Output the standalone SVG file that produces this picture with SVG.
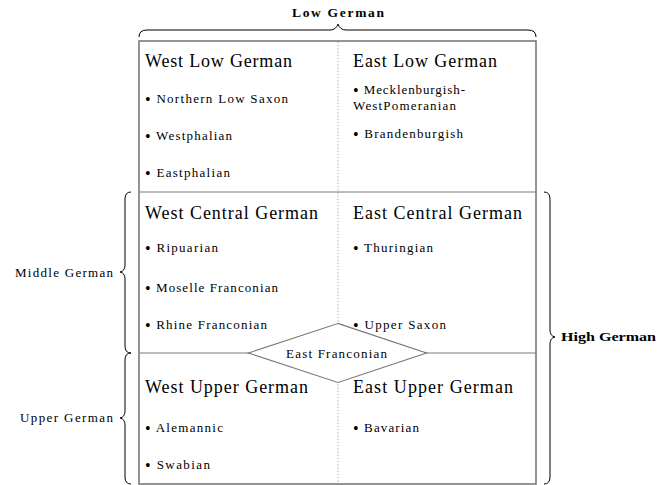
<svg xmlns="http://www.w3.org/2000/svg" width="658" height="485" viewBox="0 0 658 485">
<style>
text{font-family:"Liberation Serif","DejaVu Serif",serif;fill:#000}
.h{font-size:18px}
.i{font-size:13px}
.i tspan.bu{font-size:16px}
.l{font-size:13px}
.b{font-size:13.5px;font-weight:bold}
.brace{fill:none;stroke:#000;stroke-width:1}
.frame{fill:none;stroke:#7a7a7a;stroke-width:1.6}
.sep{stroke:#7a7a7a;stroke-width:1.2}
.dot{stroke:#888;stroke-width:0.8;stroke-dasharray:1.2,2}
</style>
<rect width="658" height="485" fill="#fff"/>
<g id="connectors">
<line class="dot" x1="338" y1="42" x2="338" y2="483"/>
<line class="sep" x1="139" y1="192" x2="536" y2="192"/>
<line class="sep" x1="139" y1="353" x2="536" y2="353"/>
<rect class="frame" x="139" y="41" width="397" height="443"/>
</g>
<g id="low-german">
<path class="brace" d="M139,37 Q139,30 147,30 L330,30 Q336,30 338,24 Q340,30 346,30 L528,30 Q536,30 536,37"/>
<text class="b" x="292" y="17" textLength="92" lengthAdjust="spacing">Low German</text>
</g>
<g id="middle-german">
<path class="brace" d="M131,192 Q125,192 125,199 L125,265 Q125,271 120,272 Q125,273 125,279 L125,346 Q125,353 131,353"/>
<text class="l" x="15" y="277" textLength="98" lengthAdjust="spacing">Middle German</text>
</g>
<g id="upper-german">
<path class="brace" d="M131,353 Q125,353 125,360 L125,411 Q125,417 120,418 Q125,419 125,425 L125,477 Q125,484 131,484"/>
<text class="l" x="20" y="422" textLength="93" lengthAdjust="spacing">Upper German</text>
</g>
<g id="high-german">
<path class="brace" d="M544,192 Q550,192 550,199 L550,330 Q550,336 555,337 Q550,338 550,344 L550,477 Q550,484 544,484"/>
<text class="b" x="561" y="341" textLength="95" lengthAdjust="spacingAndGlyphs">High German</text>
</g>
<g id="west-low-german">
<text class="h" x="145" y="67" textLength="147" lengthAdjust="spacing">West Low German</text>
<text class="i" x="145" y="103" textLength="143" lengthAdjust="spacing"><tspan class="bu" dy="2">•</tspan><tspan dy="-2"> Northern Low Saxon</tspan></text>
<text class="i" x="145" y="140" textLength="87" lengthAdjust="spacing"><tspan class="bu" dy="2">•</tspan><tspan dy="-2"> Westphalian</tspan></text>
<text class="i" x="145" y="177" textLength="85" lengthAdjust="spacing"><tspan class="bu" dy="2">•</tspan><tspan dy="-2"> Eastphalian</tspan></text>
</g>
<g id="east-low-german">
<text class="h" x="353" y="67" textLength="144" lengthAdjust="spacing">East Low German</text>
<text class="i" x="353" y="94" textLength="112" lengthAdjust="spacing"><tspan class="bu" dy="2">•</tspan><tspan dy="-2"> Mecklenburgish-</tspan></text>
<text class="i" x="353" y="110" textLength="103" lengthAdjust="spacing">WestPomeranian</text>
<text class="i" x="353" y="138" textLength="110" lengthAdjust="spacing"><tspan class="bu" dy="2">•</tspan><tspan dy="-2"> Brandenburgish</tspan></text>
</g>
<g id="west-central-german">
<text class="h" x="145" y="219" textLength="173" lengthAdjust="spacing">West Central German</text>
<text class="i" x="145" y="252" textLength="73" lengthAdjust="spacing"><tspan class="bu" dy="2">•</tspan><tspan dy="-2"> Ripuarian</tspan></text>
<text class="i" x="145" y="292" textLength="133" lengthAdjust="spacing"><tspan class="bu" dy="2">•</tspan><tspan dy="-2"> Moselle Franconian</tspan></text>
<text class="i" x="145" y="329" textLength="122" lengthAdjust="spacing"><tspan class="bu" dy="2">•</tspan><tspan dy="-2"> Rhine Franconian</tspan></text>
</g>
<g id="east-central-german">
<text class="h" x="353" y="219" textLength="169" lengthAdjust="spacing">East Central German</text>
<text class="i" x="353" y="252" textLength="80" lengthAdjust="spacing"><tspan class="bu" dy="2">•</tspan><tspan dy="-2"> Thuringian</tspan></text>
<text class="i" x="353" y="329" textLength="93" lengthAdjust="spacing"><tspan class="bu" dy="2">•</tspan><tspan dy="-2"> Upper Saxon</tspan></text>
</g>
<g id="west-upper-german">
<text class="h" x="145" y="393" textLength="163" lengthAdjust="spacing">West Upper German</text>
<text class="i" x="145" y="432" textLength="78" lengthAdjust="spacing"><tspan class="bu" dy="2">•</tspan><tspan dy="-2"> Alemannic</tspan></text>
<text class="i" x="145" y="469" textLength="65" lengthAdjust="spacing"><tspan class="bu" dy="2">•</tspan><tspan dy="-2"> Swabian</tspan></text>
</g>
<g id="east-upper-german">
<text class="h" x="353" y="393" textLength="160" lengthAdjust="spacing">East Upper German</text>
<text class="i" x="353" y="432" textLength="66" lengthAdjust="spacing"><tspan class="bu" dy="2">•</tspan><tspan dy="-2"> Bavarian</tspan></text>
</g>
<g id="east-franconian">
<polygon points="338,325 422,353 338,381 253,353" fill="#fff" stroke="#777" stroke-width="4"/>
<polygon points="338,325 422,353 338,381 253,353" fill="#fff" stroke="#fff" stroke-width="1.8"/>
<text class="i" x="286" y="358" textLength="101" lengthAdjust="spacing">East Franconian</text>
</g>
</svg>
